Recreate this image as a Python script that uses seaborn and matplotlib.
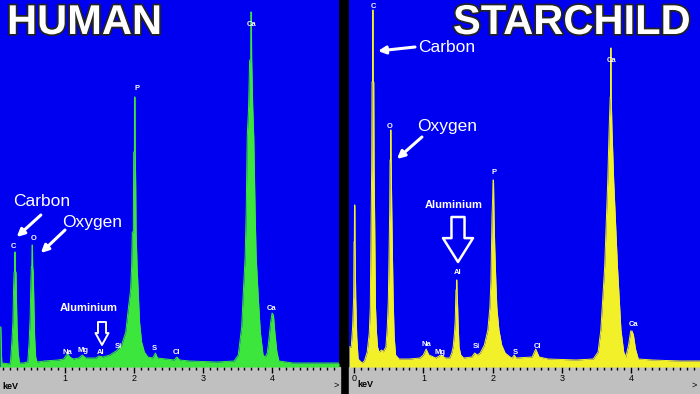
import numpy as np
import matplotlib
matplotlib.use("Agg")
import matplotlib.pyplot as plt
import matplotlib.patheffects as pe
from matplotlib.patches import Rectangle
import seaborn as sns

# spectrum outlines (keV, counts)
human_kev = [0.058, 0.07, 0.08, 0.085, 0.2,
             0.21, 0.23, 0.245, 0.255, 0.262, 0.268, 0.272, 0.278, 0.282, 0.29, 0.296, 0.305, 0.32, 0.34,
             0.40, 0.45,
             0.46, 0.48, 0.495, 0.505, 0.512, 0.518, 0.522, 0.528, 0.532, 0.54, 0.55, 0.56, 0.575, 0.595,
             0.7, 0.9,
             0.98, 1.02, 1.04, 1.07, 1.12,
             1.2, 1.25, 1.3,
             1.45, 1.49, 1.55,
             1.65, 1.74, 1.8,
             1.82, 1.88, 1.92, 1.95, 1.965, 1.975, 1.99, 1.995, 2.005, 2.007, 2.015, 2.018, 2.025, 2.03,
             2.045, 2.06, 2.08, 2.11, 2.15, 2.2,
             2.27, 2.31, 2.34,
             2.58, 2.62, 2.66,
             2.8, 3.2, 3.45,
             3.51, 3.56, 3.58, 3.61, 3.625, 3.64, 3.66, 3.675, 3.69, 3.692, 3.70, 3.705, 3.72, 3.735,
             3.755, 3.77, 3.80, 3.83, 3.87,
             3.90, 3.93,
             3.95, 3.98, 4.0, 4.02, 4.04, 4.07, 4.10,
             4.3, 4.6, 4.97]
human_counts = [40, 40, 12, 4, 3,
                5, 25, 45, 80, 95, 95, 115, 115, 95, 95, 70, 40, 15, 4,
                4, 5,
                5, 25, 50, 85, 100, 100, 122, 122, 100, 95, 60, 30, 10, 5,
                6, 7,
                8, 12, 13, 10, 8,
                9, 12, 9,
                9, 11, 10,
                12, 16, 20,
                22, 35, 60, 77, 100, 135, 135, 215, 215, 270, 270, 215, 180, 135,
                100, 77, 45, 25, 15, 10,
                9, 14, 9,
                7, 10, 7,
                6, 5, 6,
                12, 40, 70, 110, 154, 230, 260, 307, 307, 355, 355, 307, 260, 230,
                154, 110, 70, 35, 12,
                10, 14,
                25, 45, 54, 52, 35, 15, 6,
                4, 4, 4]

star_kev = [-0.072, -0.04, -0.02, -0.005, 0.0, 0.005, 0.007, 0.013, 0.015, 0.025, 0.04, 0.06, 0.115,
            0.15, 0.19, 0.22, 0.235, 0.245, 0.255, 0.26, 0.268, 0.27, 0.276, 0.278, 0.285, 0.29, 0.30,
            0.31, 0.325, 0.34, 0.36,
            0.40, 0.42, 0.46,
            0.48, 0.495, 0.505, 0.515, 0.52, 0.527, 0.528, 0.534, 0.536, 0.545, 0.555, 0.565, 0.58, 0.60,
            0.65, 0.8, 0.95,
            1.0, 1.04, 1.08,
            1.18, 1.25, 1.32,
            1.38, 1.41, 1.43, 1.45, 1.46, 1.47, 1.477, 1.478, 1.484, 1.486, 1.495, 1.50, 1.515, 1.54, 1.58,
            1.70, 1.74, 1.78,
            1.82, 1.88, 1.93, 1.96, 1.975, 1.99, 2.0, 2.005, 2.012, 2.02, 2.03, 2.045, 2.06, 2.09, 2.13,
            2.18, 2.25,
            2.28, 2.31, 2.34,
            2.57, 2.62, 2.67,
            2.8, 3.2, 3.45,
            3.52, 3.56, 3.615, 3.66, 3.68, 3.695, 3.70, 3.702, 3.708, 3.71, 3.72, 3.745, 3.80, 3.85, 3.89,
            3.92,
            3.96, 3.99, 4.01, 4.03, 4.06, 4.10,
            4.3, 4.7, 4.99]
star_counts = [20, 20, 40, 70, 125, 125, 162, 162, 125, 70, 30, 8, 4,
               6, 15, 34, 60, 134, 200, 285, 285, 357, 357, 285, 285, 200, 134,
               60, 34, 20, 15,
               17, 15, 20,
               40, 67, 110, 157, 207, 207, 237, 237, 207, 157, 110, 67, 30, 12,
               8, 8, 9,
               12, 18, 12,
               9, 12, 9,
               9, 14, 20, 35, 47, 77, 77, 87, 87, 77, 60, 47, 20, 12, 9,
               10, 14, 12,
               14, 22, 37, 60, 87, 150, 170, 187, 187, 150, 120, 87, 60, 37, 22,
               14, 10,
               9, 12, 9,
               10, 18, 10,
               8, 7, 8,
               15, 37, 100, 187, 239, 270, 270, 319, 319, 270, 239, 187, 100, 37, 15,
               10,
               22, 36, 36, 32, 18, 8,
               7, 6, 6]

# element tags on the peaks
human_elements = ["C", "O", "Na", "Mg", "Al", "Si", "P", "S", "Cl", "Ca", "Ca"]
human_el_kev = [0.25, 0.54, 1.04, 1.26, 1.52, 1.77, 2.04, 2.29, 2.61, 3.70, 4.0]
human_el_counts = [120, 128, 15, 16, 15, 21, 278, 19, 14, 343, 59]

star_elements = ["C", "O", "Na", "Mg", "Al", "Si", "P", "S", "Cl", "Ca", "Ca"]
star_el_kev = [0.274, 0.52, 1.05, 1.24, 1.49, 1.76, 2.02, 2.32, 2.64, 3.72, 4.03]
star_el_counts = [361, 241, 22, 15, 95, 20, 194, 15, 21, 306, 43]

human_ticks = [1, 2, 3, 4]
star_ticks = [0, 1, 2, 3, 4]

BLUE = "#0000f0"
GREEN = "#3ce63c"
YELLOW = "#f2f028"
GRAY = "#c0c0c0"

sns.set_theme(style="dark")
plt.rcParams["font.family"] = ["Liberation Sans", "DejaVu Sans"]

fig = plt.figure(figsize=(7, 3.94), dpi=100, facecolor="black")
band = 27 / 394
fig.add_artist(Rectangle((0, 0), 340 / 700, band, transform=fig.transFigure,
                         color=GRAY, zorder=-1))
fig.add_artist(Rectangle((349 / 700, 0), 351 / 700, band, transform=fig.transFigure,
                         color=GRAY, zorder=-1))

ax1 = fig.add_axes([0, band, 339 / 700, 1 - band])
ax2 = fig.add_axes([349 / 700, band, 351 / 700, 1 - band])


def draw_spectrum(ax, kev, counts, color, xlim, ticks, names, el_kev, el_counts):
    ax.set_facecolor(BLUE)
    ax.fill_between(kev, counts, 0, color=color, lw=0, zorder=2)
    sns.lineplot(x=kev, y=counts, ax=ax, color=color, lw=0.7,
                 sort=False, estimator=None, zorder=3)
    for name, k, c in zip(names, el_kev, el_counts):
        ax.text(k, c, name, color="white", fontsize=5.5, fontweight="bold",
                ha="center", va="center", zorder=4)
    ax.set_xlim(*xlim)
    ax.set_ylim(0, 367)
    ax.set_xticks(ticks)
    ax.set_xticklabels([str(t) for t in ticks])
    ax.set_xticks(np.arange(0.1, 4.95, 0.1), minor=True)
    ax.set_yticks([])
    ax.tick_params(axis="x", which="major", direction="out", length=4, width=1,
                   color="black", labelsize=6.5, pad=1, labelcolor="black")
    ax.tick_params(axis="x", which="minor", direction="out", length=2.5, width=1,
                   color="black")
    ax.tick_params(axis="x", which="both", bottom=True)
    for s in ax.spines.values():
        s.set_visible(False)
    ax.set_xlabel("")
    ax.set_ylabel("")
    ax.grid(False)


draw_spectrum(ax1, human_kev, human_counts, GREEN, (0.058, 4.97), human_ticks,
              human_elements, human_el_kev, human_el_counts)
draw_spectrum(ax2, star_kev, star_counts, YELLOW, (-0.072, 4.99), star_ticks,
              star_elements, star_el_kev, star_el_counts)

arrow = dict(arrowstyle="-|>", color="white", lw=2.2, mutation_scale=11,
             shrinkA=0, shrinkB=0)

# human annotations
ax1.text(0.667, 166, "Carbon", color="white", fontsize=12.5, ha="center", va="center")
ax1.annotate("", xy=(0.30, 130), xytext=(0.65, 152), arrowprops=arrow)
ax1.text(1.39, 145, "Oxygen", color="white", fontsize=12.5, ha="center", va="center")
ax1.annotate("", xy=(0.65, 114), xytext=(1.0, 137), arrowprops=arrow)
ax1.text(1.35, 59, "Aluminium", color="white", fontsize=8, fontweight="bold",
         ha="center", va="center")
ax1.annotate("", xy=(1.536, 22), xytext=(1.536, 45),
             arrowprops=dict(arrowstyle="simple,head_length=0.86,head_width=0.94,tail_width=0.58",
                             fc=BLUE, ec="white", lw=1.4, mutation_scale=10,
                             shrinkA=0, shrinkB=0))

# starchild annotations
ax2.text(1.33, 319, "Carbon", color="white", fontsize=12.5, ha="center", va="center")
ax2.annotate("", xy=(0.346, 316), xytext=(0.88, 320), arrowprops=arrow)
ax2.text(1.34, 240, "Oxygen", color="white", fontsize=12.5, ha="center", va="center")
ax2.annotate("", xy=(0.62, 208), xytext=(0.98, 230), arrowprops=arrow)
ax2.text(1.44, 162, "Aluminium", color="white", fontsize=8, fontweight="bold",
         ha="center", va="center")
ax2.annotate("", xy=(1.50, 105), xytext=(1.50, 150),
             arrowprops=dict(arrowstyle="simple,head_length=0.86,head_width=1.08,tail_width=0.47",
                             fc=BLUE, ec="white", lw=1.8, mutation_scale=20,
                             shrinkA=0, shrinkB=0))

# panel titles
stroke = [pe.withStroke(linewidth=2.5, foreground="#222222")]
fig.text(7 / 700, 1 - 34 / 394, "HUMAN", color="white", fontsize=30, fontweight="bold",
         ha="left", va="baseline", path_effects=stroke)
fig.text(690 / 700, 1 - 34 / 394, "STARCHILD", color="white", fontsize=30,
         fontweight="bold", ha="right", va="baseline", path_effects=stroke)

fig.text(2 / 700, 3 / 394, "keV", color="black", fontsize=6.5, fontweight="bold",
         ha="left", va="bottom")
fig.text(357 / 700, 5 / 394, "keV", color="black", fontsize=6.5, fontweight="bold",
         ha="left", va="bottom")
fig.text(333 / 700, 4 / 394, ">", color="black", fontsize=6.5, ha="left", va="bottom")
fig.text(691 / 700, 4 / 394, ">", color="black", fontsize=6.5, ha="left", va="bottom")

fig.savefig("out.png", dpi=100, facecolor="black")
